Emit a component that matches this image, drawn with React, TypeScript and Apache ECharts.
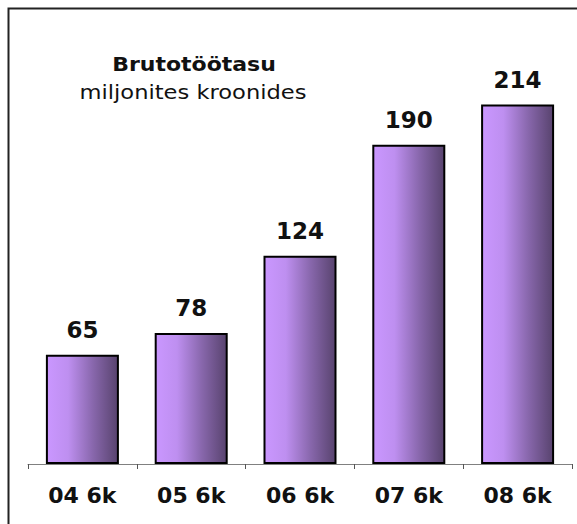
import React, { useEffect, useRef } from "react";
import * as echarts from "echarts";

const categories = ["04 6k", "05 6k", "06 6k", "07 6k", "08 6k"];
const values = [65, 78, 124, 190, 214];
const titleMain = "Brutotöötasu";
const titleSub = "miljonites kroonides";

export default function App() {
  const ref = useRef<HTMLDivElement>(null);
  useEffect(() => {
    if (!ref.current) return;
    const chart = echarts.init(ref.current, undefined, { renderer: "svg" });
    const font = "'DejaVu Sans', Verdana, sans-serif";
    chart.setOption({
      animation: false,
      backgroundColor: "#ffffff",
      grid: { left: 28, right: 5, top: 44, bottom: 60, containLabel: false },
      xAxis: {
        type: "category",
        data: categories,
        boundaryGap: true,
        axisLine: { show: true, lineStyle: { color: "#808080", width: 1 } },
        axisTick: { show: true, length: 5, lineStyle: { color: "#555555", width: 1 } },
        axisLabel: {
          margin: 20,
          fontFamily: font,
          fontWeight: "bold",
          fontSize: 22,
          color: "#111111",
        },
      },
      yAxis: {
        type: "value",
        min: 0,
        max: 250,
        show: false,
        splitLine: { show: false },
      },
      graphic: [
        {
          type: "rect",
          shape: { x: 8.5, y: 8.5, width: 900, height: 900 },
          style: { fill: "none", stroke: "#222222", lineWidth: 2 },
          silent: true,
        },
        {
          type: "text",
          x: 194,
          y: 64,
          scaleX: 1.1,
          style: {
            text: titleMain,
            fontFamily: font,
            fontWeight: "bold",
            fontSize: 20,
            fill: "#111111",
            textAlign: "center",
            textVerticalAlign: "middle",
          },
        },
        {
          type: "text",
          x: 193,
          y: 92,
          scaleX: 1.13,
          style: {
            text: titleSub,
            fontFamily: font,
            fontSize: 20,
            fill: "#111111",
            textAlign: "center",
            textVerticalAlign: "middle",
          },
        },
      ],
      series: [
        {
          type: "bar",
          data: values,
          barWidth: 73,
          itemStyle: {
            borderColor: "#000000",
            borderWidth: 2,
            color: new echarts.graphic.LinearGradient(0, 0, 1, 0, [
              { offset: 0, color: "#CA97FF" },
              { offset: 0.3, color: "#BE8FF0" },
              { offset: 0.65, color: "#8867AC" },
              { offset: 1, color: "#58436E" },
            ]),
          },
          label: {
            show: true,
            position: "top",
            distance: 13,
            fontFamily: font,
            fontWeight: "bold",
            fontSize: 23,
            color: "#111111",
          },
        },
      ],
    });
    return () => chart.dispose();
  }, []);
  return (
    <div
      ref={ref}
      style={{ position: "fixed", left: 0, top: 0, width: 577, height: 524 }}
    />
  );
}
